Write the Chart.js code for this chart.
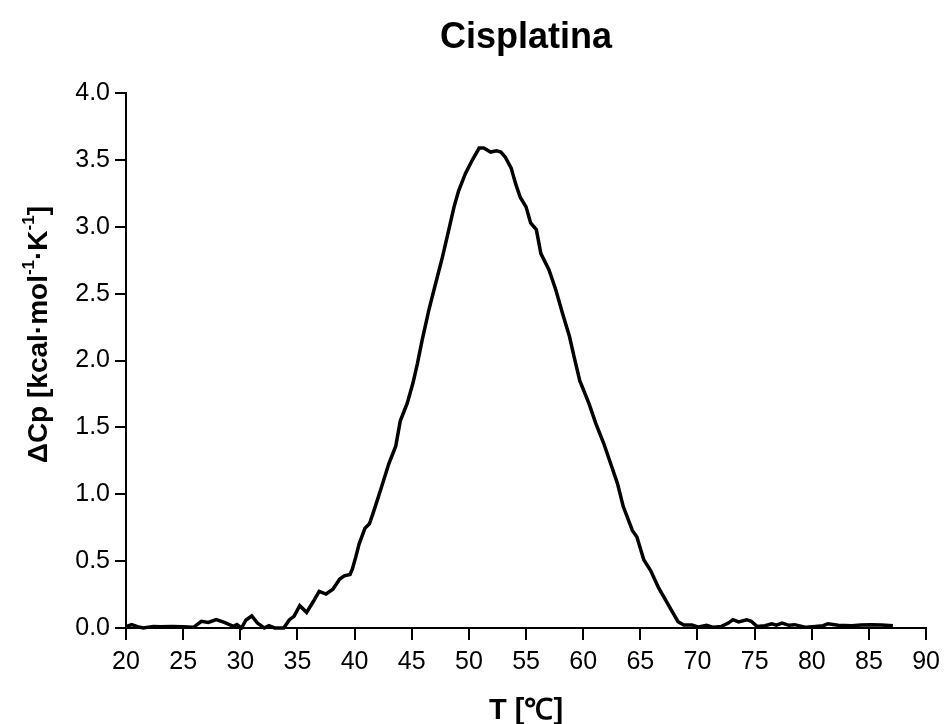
<!DOCTYPE html>
<html>
<head>
<meta charset="utf-8">
<title>Cisplatina</title>
<script src="https://cdn.jsdelivr.net/npm/chart.js@4.4.1/dist/chart.umd.min.js"></script>
<style>
  html, body { margin: 0; padding: 0; background: #fff; }
  #wrap { width: 947px; height: 724px; }
</style>
</head>
<body>
<div id="wrap"><canvas id="dsc"></canvas></div>
<script>
// Temperatura (°C) y exceso de capacidad calorífica (kcal/mol/K)
const temperaturas = [
  20.0, 20.5, 21.0, 21.5, 22.4, 23.0, 24.0, 25.0, 25.9, 26.6, 27.2, 27.9, 28.6, 29.4, 29.7,
  30.1, 30.5, 31.0, 31.5, 32.1, 32.5, 33.0, 33.8, 34.3, 34.7, 35.2, 35.8, 36.4, 36.9, 37.5,
  38.1, 38.7, 39.1, 39.6, 39.8, 40.1, 40.4, 40.9, 41.3, 41.7, 42.3, 43.0, 43.6, 44.0, 44.6,
  45.1, 45.5, 45.9, 46.5, 47.1, 47.7, 48.3, 48.7, 49.1, 49.7, 50.3, 50.9, 51.3, 51.9, 52.4,
  52.8, 53.2, 53.7, 54.1, 54.5, 55.0, 55.4, 55.9, 56.3, 57.0, 57.6, 58.2, 58.8, 59.2, 59.7,
  60.5, 61.1, 61.8, 62.4, 63.0, 63.5, 64.3, 64.7, 65.3, 65.9, 66.6, 67.2, 67.8, 68.3, 68.8,
  69.5, 70.1, 70.8, 71.4, 72.1, 72.7, 73.1, 73.6, 74.3, 74.7, 75.2, 75.9, 76.5, 76.9, 77.4,
  78.0, 78.5, 79.5, 80.3, 81.0, 81.4, 82.3, 83.5, 84.3, 85.2, 86.1, 87.1
];
const deltaCp = [
  0.010, 0.025, 0.010, 0.000, 0.012, 0.010, 0.012, 0.010, 0.005, 0.050, 0.042, 0.062, 0.042, 0.012, 0.025,
  0.000, 0.060, 0.090, 0.037, 0.000, 0.017, 0.000, 0.000, 0.062, 0.087, 0.167, 0.117, 0.200, 0.274, 0.254,
  0.290, 0.366, 0.390, 0.400, 0.440, 0.530, 0.630, 0.745, 0.780, 0.880, 1.040, 1.230, 1.360, 1.550, 1.680,
  1.830, 1.980, 2.150, 2.380, 2.580, 2.780, 3.000, 3.150, 3.270, 3.400, 3.500, 3.590, 3.590, 3.560, 3.570,
  3.560, 3.520, 3.440, 3.320, 3.220, 3.150, 3.030, 2.980, 2.800, 2.680, 2.530, 2.350, 2.180, 2.030, 1.850,
  1.680, 1.530, 1.380, 1.230, 1.080, 0.910, 0.730, 0.680, 0.510, 0.430, 0.300, 0.210, 0.120, 0.047, 0.023,
  0.023, 0.007, 0.020, 0.005, 0.012, 0.037, 0.062, 0.045, 0.062, 0.050, 0.012, 0.017, 0.032, 0.022, 0.037,
  0.020, 0.025, 0.005, 0.012, 0.017, 0.032, 0.020, 0.017, 0.022, 0.025, 0.022, 0.017
];

// Marcas de los ejes
const ticksX = [20, 25, 30, 35, 40, 45, 50, 55, 60, 65, 70, 75, 80, 85, 90];
const ticksY = [0.0, 0.5, 1.0, 1.5, 2.0, 2.5, 3.0, 3.5, 4.0];

const fuente = "'Liberation Sans', Arial, sans-serif";

// Título del eje Y con superíndices, dibujado a mano
const tituloY = {
  id: 'tituloY',
  afterDraw(chart) {
    const ctx = chart.ctx;
    const partes = [
      { t: 'ΔCp [kcal·mol', sup: false },
      { t: '-1', sup: true },
      { t: '·K', sup: false },
      { t: '-1', sup: true },
      { t: ']', sup: false }
    ];
    const normal = 'bold 28px ' + fuente;
    const peque = 'bold 17px ' + fuente;
    let ancho = 0;
    partes.forEach(p => {
      ctx.font = p.sup ? peque : normal;
      p.w = ctx.measureText(p.t).width;
      ancho += p.w;
    });
    const cy = (chart.chartArea.top + chart.chartArea.bottom) / 2 - 26;
    ctx.save();
    ctx.translate(37, cy);
    ctx.rotate(-Math.PI / 2);
    ctx.fillStyle = '#000';
    ctx.textBaseline = 'alphabetic';
    let x = -ancho / 2;
    partes.forEach(p => {
      ctx.font = p.sup ? peque : normal;
      ctx.fillText(p.t, x, p.sup ? -3 : 10);
      x += p.w;
    });
    ctx.restore();
  }
};

const ctx = document.getElementById('dsc').getContext('2d');
const grafico = new Chart(ctx, {
  type: 'line',
  data: {
    datasets: [{
      data: temperaturas.map((t, i) => ({ x: t, y: deltaCp[i] })),
      borderColor: '#000',
      borderWidth: 3.5,
      pointRadius: 0,
      tension: 0,
      fill: false,
      clip: 4
    }]
  },
  options: {
    responsive: true,
    maintainAspectRatio: false,
    animation: false,
    layout: { padding: { right: 18 } },
    plugins: {
      legend: { display: false },
      tooltip: { enabled: false },
      title: {
        display: true,
        text: 'Cisplatina',
        color: '#000',
        fullSize: false,
        font: { family: fuente, size: 36, weight: 'bold', lineHeight: 1.2 },
        padding: { top: 16, bottom: 34 }
      }
    },
    scales: {
      x: {
        type: 'linear',
        min: 20,
        max: 90,
        afterBuildTicks: s => { s.ticks = ticksX.map(v => ({ value: v })); },
        afterFit: s => { s.height = 96; },
        border: { color: '#000', width: 2 },
        grid: { drawOnChartArea: false, drawTicks: true, tickLength: 12, color: '#000', lineWidth: 2 },
        ticks: { color: '#000', padding: 7, maxRotation: 0, font: { family: fuente, size: 25 } },
        title: {
          display: true,
          text: 'T [℃]',
          color: '#000',
          font: { family: fuente, size: 29, weight: 'bold', lineHeight: 1 },
          padding: { top: 0, bottom: -1 }
        }
      },
      y: {
        type: 'linear',
        min: 0,
        max: 4,
        afterBuildTicks: s => { s.ticks = ticksY.map(v => ({ value: v })); },
        afterFit: s => { s.width = 126; },
        border: { color: '#000', width: 2 },
        grid: { drawOnChartArea: false, drawTicks: true, tickLength: 11, color: '#000', lineWidth: 2 },
        ticks: {
          color: '#000',
          padding: 5,
          font: { family: fuente, size: 25 },
          callback: v => v.toFixed(1)
        }
      }
    }
  },
  plugins: [tituloY]
});
</script>
</body>
</html>
